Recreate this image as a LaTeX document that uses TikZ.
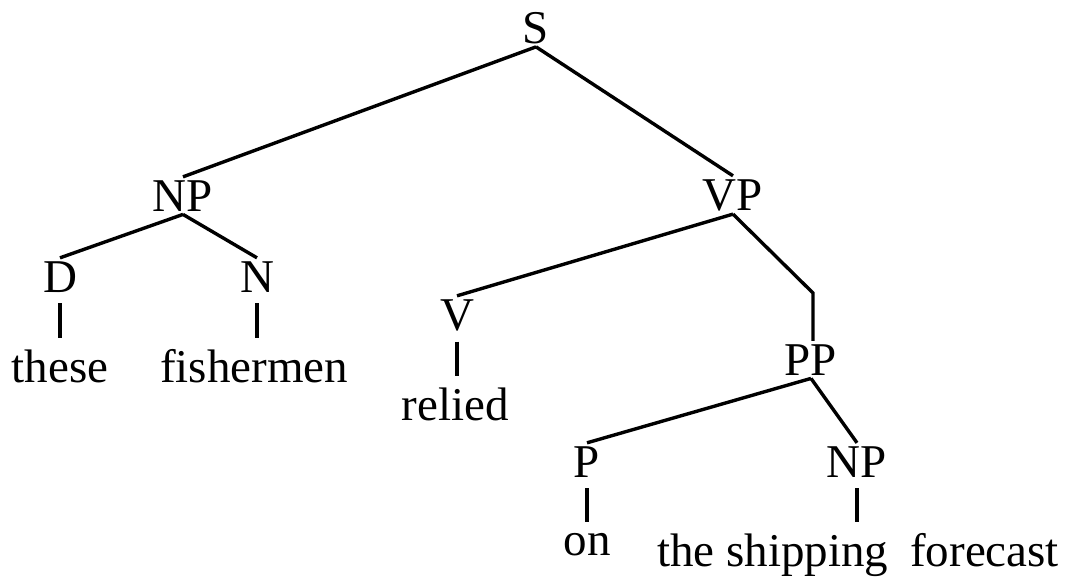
\documentclass[tikz,border=0pt]{standalone}
\usepackage{fontspec}
\setmainfont{Liberation Serif}
\begin{document}
\begin{tikzpicture}[x=0.5pt,y=-0.5pt,
  lbl/.style={anchor=base,inner sep=1.5pt,font=\fontsize{23.5}{28}\selectfont},
  branch/.style={line width=1.7pt},
  bar/.style={line width=1.7pt,shorten <=3.8pt,shorten >=3.8pt}]
\useasboundingbox (0,0) rectangle (1067,580);
% categories
\node[lbl] (S)   at (536,43)  {S};
\node[lbl] (NPa) at (183,211) {NP};
\node[lbl] (VP)  at (733,210) {VP};
\node[lbl] (D)   at (60,292)  {D};
\node[lbl] (N)   at (257,292) {N};
\node[lbl] (V)   at (457,330) {V};
\node[lbl] (PP)  at (811,375) {PP};
\node[lbl] (P)   at (587,477) {P};
\node[lbl] (NPb) at (857,477) {NP};
% words
\node[lbl] (these) at (60,382)  {these};
\node[lbl] (fish)  at (254,382) {fishermen};
\node[lbl] (relied) at (455,420) {relied};
\node[lbl] (on)    at (587,555) {on};
\node[lbl] (tsf)   at (858,566) {the shipping\hspace{0.22em} forecast};
\coordinate (bend) at (813,293);
% branches
\draw[branch] (S.south) -- (NPa.north);
\draw[branch] (S.south) -- (VP.north);
\draw[branch] (NPa.south) -- (D.north);
\draw[branch] (NPa.south) -- (N.north);
\draw[branch] (VP.south) -- (V.north);
\draw[branch] (VP.south) -- (bend) -- (bend |- PP.north);
\draw[branch] (PP.south) -- (P.north);
\draw[branch] (PP.south) -- (NPb.north);
% lexical bars
\draw[bar] (D.south) -- (D.south |- these.north);
\draw[bar] (N.south) -- (N.south |- fish.north);
\draw[bar] (V.south) -- (V.south |- relied.north);
\draw[bar] (P.south) -- (P.south |- on.north);
\draw[bar] (NPb.south) -- (NPb.south |- tsf.north);
\end{tikzpicture}
\end{document}
